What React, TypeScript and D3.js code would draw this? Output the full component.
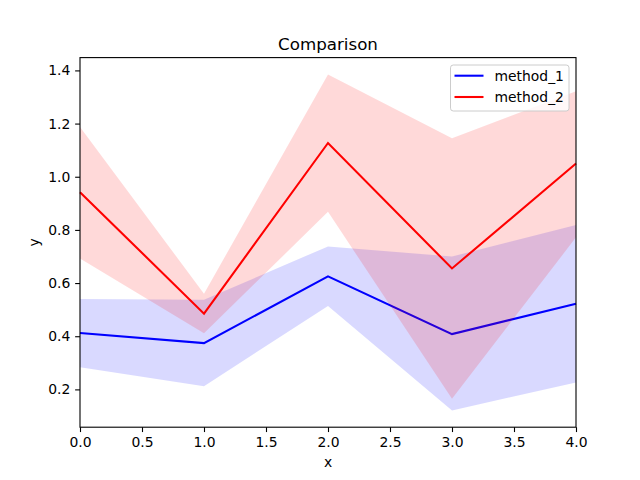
import React, { useRef, useEffect } from 'react';
import * as d3 from 'd3';

const xs = [0, 1, 2, 3, 4];
const m1Mean = [0.412, 0.374, 0.625, 0.408, 0.522];
const m1Low = [0.283, 0.212, 0.514, 0.121, 0.226];
const m1High = [0.54, 0.537, 0.738, 0.7, 0.818];
const m2Mean = [0.942, 0.485, 1.127, 0.655, 1.05];
const m2Low = [0.692, 0.411, 0.868, 0.165, 0.772];
const m2High = [1.187, 0.56, 1.385, 1.145, 1.322];
const xTicks = [0, 0.5, 1, 1.5, 2, 2.5, 3, 3.5, 4];
const yTicks = [0.2, 0.4, 0.6, 0.8, 1.0, 1.2, 1.4];

const series = [
  { name: 'method_1', color: '#0000ff', mean: m1Mean, low: m1Low, high: m1High },
  { name: 'method_2', color: '#ff0000', mean: m2Mean, low: m2Low, high: m2High },
];

const FONT = 'DejaVu Sans, sans-serif';

const App: React.FC = () => {
  const svgRef = useRef<SVGSVGElement>(null);

  useEffect(() => {
    document.body.style.margin = '0';
    if (!svgRef.current) return;
    const svg = d3.select(svgRef.current);
    svg.selectAll('*').remove();

    const width = 640;
    const height = 480;
    const margin = { top: 57.6, right: 64, bottom: 52.8, left: 80 };
    const innerW = width - margin.left - margin.right;
    const innerH = height - margin.top - margin.bottom;

    const g = svg.append('g').attr('transform', `translate(${margin.left},${margin.top})`);

    // autoscale like matplotlib: 5% padding on y
    const allY = [...m1Low, ...m1High, ...m2Low, ...m2High];
    const yMin = d3.min(allY)!;
    const yMax = d3.max(allY)!;
    const pad = (yMax - yMin) * 0.05;

    const x = d3.scaleLinear().domain([0, 4]).range([0, innerW]);
    const y = d3.scaleLinear().domain([yMin - pad, yMax + pad]).range([innerH, 0]);

    const line = d3.line<number>().x((_, i) => x(xs[i])).y((d) => y(d));

    series.forEach((s) => {
      const area = d3.area<number>()
        .x((_, i) => x(xs[i]))
        .y0((_, i) => y(s.low[i]))
        .y1((_, i) => y(s.high[i]));
      g.append('path').datum(s.mean)
        .attr('d', line)
        .attr('fill', 'none')
        .attr('stroke', s.color)
        .attr('stroke-width', 2.08);
      g.append('path').datum(s.mean)
        .attr('d', area)
        .attr('fill', s.color)
        .attr('fill-opacity', 0.15);
    });

    // Axes
    const xAxis = g.append('g')
      .attr('transform', `translate(0,${innerH})`)
      .call(d3.axisBottom(x).tickValues(xTicks).tickFormat(d3.format('.1f')).tickSizeOuter(0).tickSize(4.86).tickPadding(4.86));
    const yAxis = g.append('g')
      .call(d3.axisLeft(y).tickValues(yTicks).tickFormat(d3.format('.1f')).tickSizeOuter(0).tickSize(4.86).tickPadding(4.86));
    [xAxis, yAxis].forEach((ax) => {
      ax.select('.domain').remove();
      ax.selectAll('line').attr('stroke', '#000').attr('stroke-width', 1.1);
      ax.selectAll('text').attr('fill', '#000').attr('font-size', '13.9px').attr('font-family', FONT);
    });

    // Frame
    g.append('rect')
      .attr('width', innerW).attr('height', innerH)
      .attr('fill', 'none').attr('stroke', '#000').attr('stroke-width', 1.1);

    // Labels
    svg.append('text')
      .attr('x', margin.left + innerW / 2).attr('y', 49.5)
      .attr('text-anchor', 'middle').attr('font-family', FONT)
      .attr('font-size', '16.7px').attr('fill', '#000').text('Comparison');
    svg.append('text')
      .attr('x', margin.left + innerW / 2).attr('y', 466.5)
      .attr('text-anchor', 'middle').attr('font-family', FONT)
      .attr('font-size', '13.9px').attr('fill', '#000').text('x');
    svg.append('text')
      .attr('transform', `translate(39, ${margin.top + innerH / 2}) rotate(-90)`)
      .attr('text-anchor', 'middle').attr('font-family', FONT)
      .attr('font-size', '13.9px').attr('fill', '#000').text('y');

    // Legend
    const legend = svg.append('g').attr('transform', 'translate(450.5, 65)');
    legend.append('rect')
      .attr('width', 118.5).attr('height', 46).attr('rx', 2.8)
      .attr('fill', '#fff').attr('fill-opacity', 0.8)
      .attr('stroke', '#cccccc').attr('stroke-width', 1);
    series.forEach((s, i) => {
      const row = legend.append('g').attr('transform', `translate(0, ${10.7 + i * 21.3})`);
      row.append('line').attr('x1', 4).attr('x2', 33).attr('y1', 0).attr('y2', 0)
        .attr('stroke', s.color).attr('stroke-width', 2.08);
      row.append('text').attr('x', 44).attr('y', 0).attr('dy', '0.35em')
        .attr('font-family', FONT).attr('font-size', '13.9px').attr('fill', '#000')
        .text(s.name);
    });
  }, []);

  return <svg ref={svgRef} width={640} height={480} style={{ display: 'block', background: '#fff' }} />;
};

export default App;
